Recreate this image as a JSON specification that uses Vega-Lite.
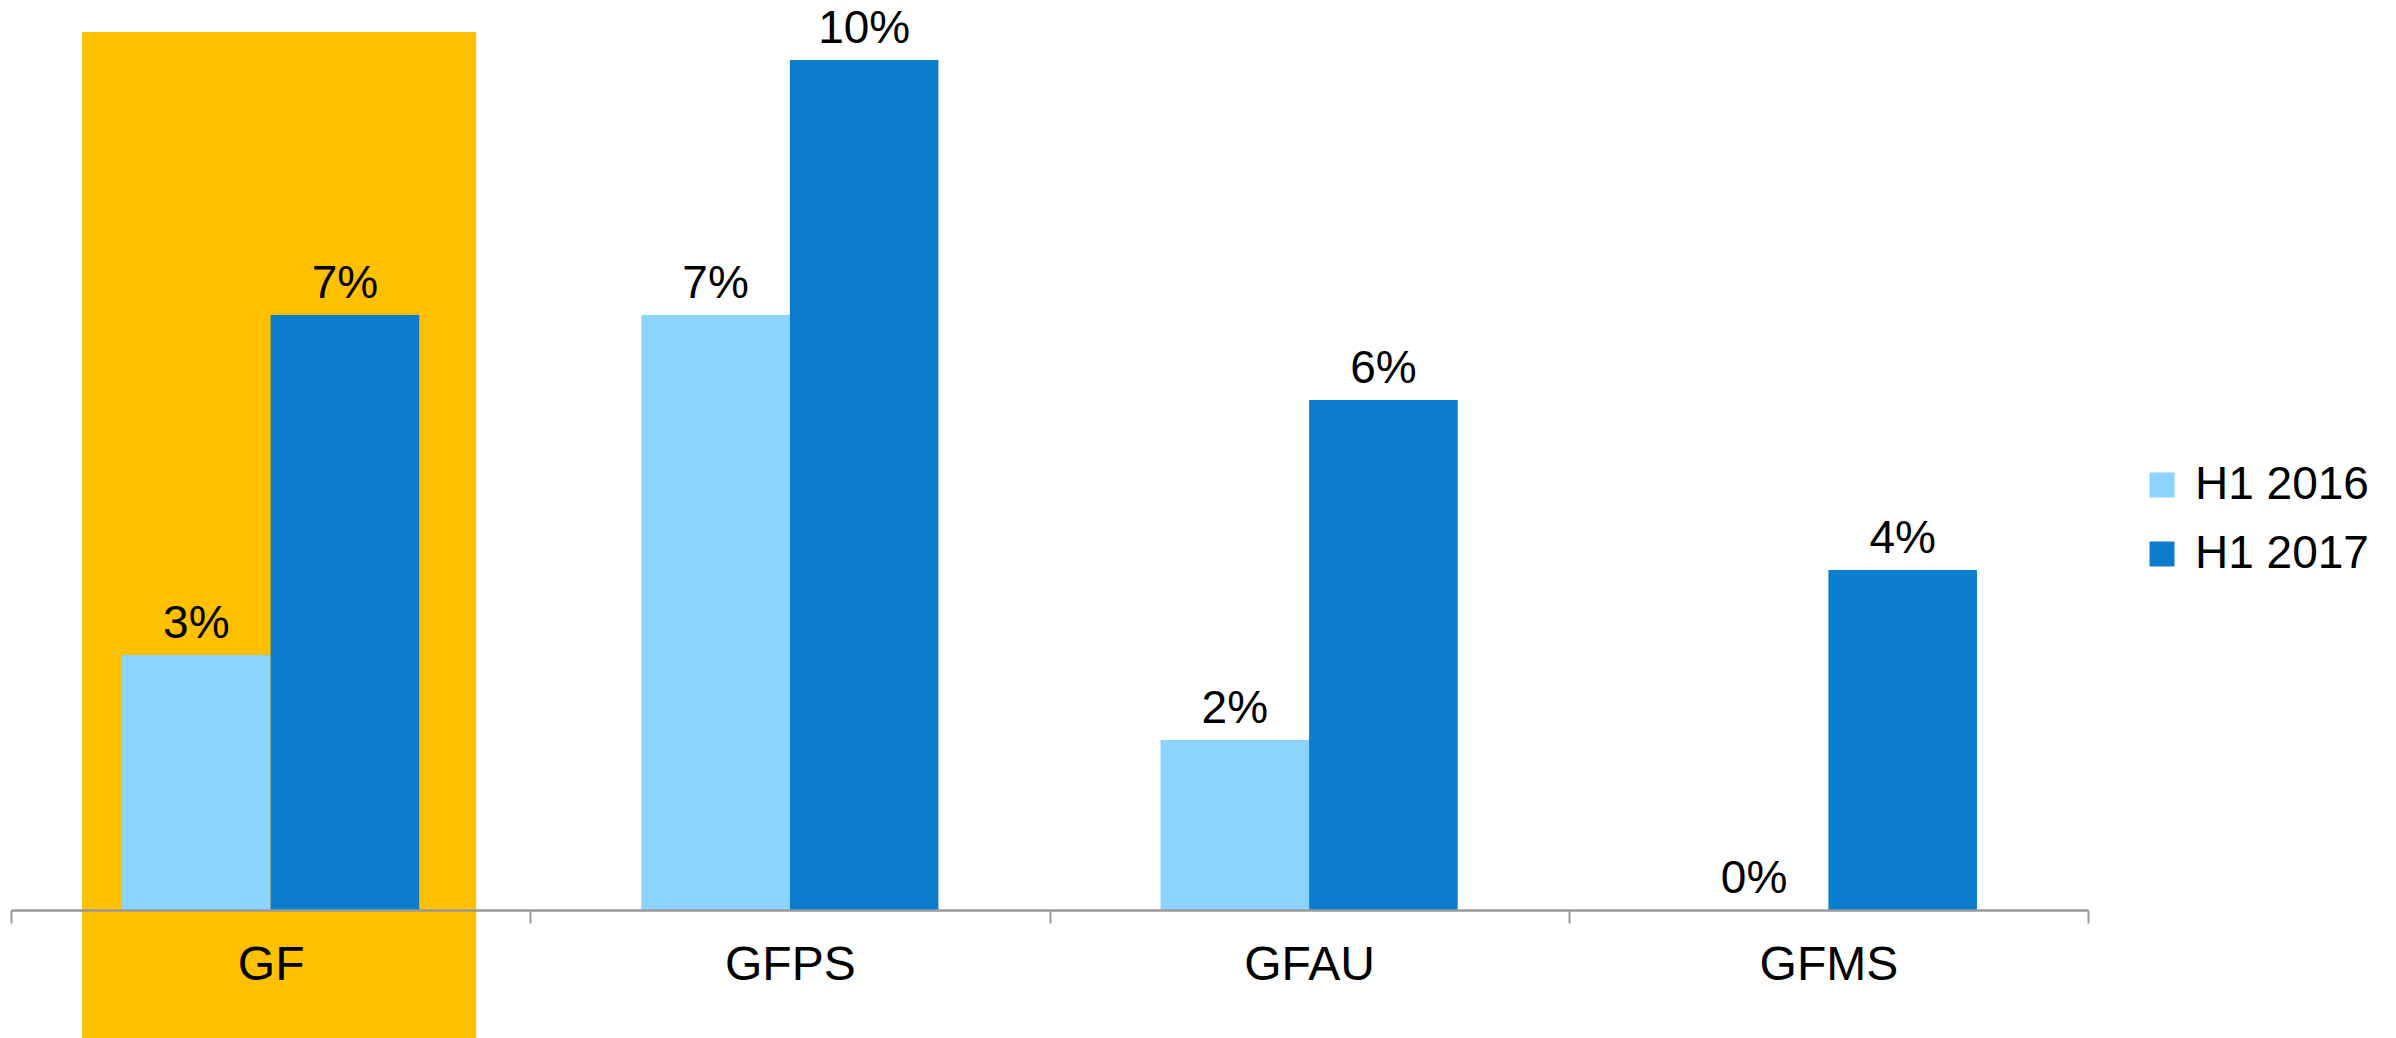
{
  "$schema": "https://vega.github.io/schema/vega-lite/v6.json",
  "width": 2077,
  "height": 910,
  "autosize": {"type": "none"},
  "padding": {"left": 11, "top": 0, "right": 308, "bottom": 128},
  "config": {
    "view": {"stroke": null},
    "font": "Liberation Sans"
  },
  "datasets": {
    "highlight": [
      {"unit": "GF", "top": 0.1033, "bottom": -0.016}
    ],
    "growth": [
      {"unit": "GF", "period": "H1 2016", "value": 0.03},
      {"unit": "GF", "period": "H1 2017", "value": 0.07},
      {"unit": "GFPS", "period": "H1 2016", "value": 0.07},
      {"unit": "GFPS", "period": "H1 2017", "value": 0.10},
      {"unit": "GFAU", "period": "H1 2016", "value": 0.02},
      {"unit": "GFAU", "period": "H1 2017", "value": 0.06},
      {"unit": "GFMS", "period": "H1 2016", "value": 0.0},
      {"unit": "GFMS", "period": "H1 2017", "value": 0.04}
    ]
  },
  "encoding": {
    "x": {
      "field": "unit",
      "type": "nominal",
      "scale": {"domain": ["GF", "GFPS", "GFAU", "GFMS"], "paddingInner": 0, "paddingOuter": 0},
      "axis": {
        "title": null,
        "labelAngle": 0,
        "tickBand": "extent",
        "labelFontSize": 48,
        "labelColor": "#000000",
        "labelPadding": 18,
        "tickSize": 13,
        "tickColor": "#999999",
        "tickWidth": 2,
        "domainColor": "#999999",
        "domainWidth": 2.5,
        "zindex": 1
      }
    }
  },
  "layer": [
    {
      "data": {"name": "highlight"},
      "mark": {"type": "bar", "color": "#FFC000", "width": {"band": 0.759}, "xOffset": 8.5},
      "encoding": {
        "y": {
          "field": "top",
          "type": "quantitative",
          "scale": {"domain": [0, 0.10706], "nice": false, "zero": false},
          "axis": null
        },
        "y2": {"field": "bottom"}
      }
    },
    {
      "data": {"name": "growth"},
      "mark": {"type": "bar"},
      "encoding": {
        "xOffset": {
          "field": "period",
          "type": "nominal",
          "scale": {"paddingInner": 0, "paddingOuter": 0.7475}
        },
        "y": {"field": "value", "type": "quantitative"},
        "color": {
          "field": "period",
          "type": "nominal",
          "scale": {"domain": ["H1 2016", "H1 2017"], "range": ["#8CD3FF", "#0C7CCC"]},
          "legend": {
            "title": null,
            "orient": "none",
            "legendX": 2128,
            "legendY": 462,
            "padding": 0,
            "symbolType": "square",
            "symbolSize": 625,
            "symbolStrokeWidth": 0,
            "labelFontSize": 46,
            "labelColor": "#000000",
            "labelLimit": 0,
            "labelOffset": 10,
            "rowPadding": 23
          }
        }
      }
    },
    {
      "data": {"name": "growth"},
      "mark": {"type": "text", "baseline": "alphabetic", "dy": -17, "fontSize": 46, "color": "#000000"},
      "encoding": {
        "xOffset": {"field": "period", "type": "nominal"},
        "y": {"field": "value", "type": "quantitative"},
        "text": {"field": "value", "type": "quantitative", "format": ".0%"}
      }
    }
  ]
}
